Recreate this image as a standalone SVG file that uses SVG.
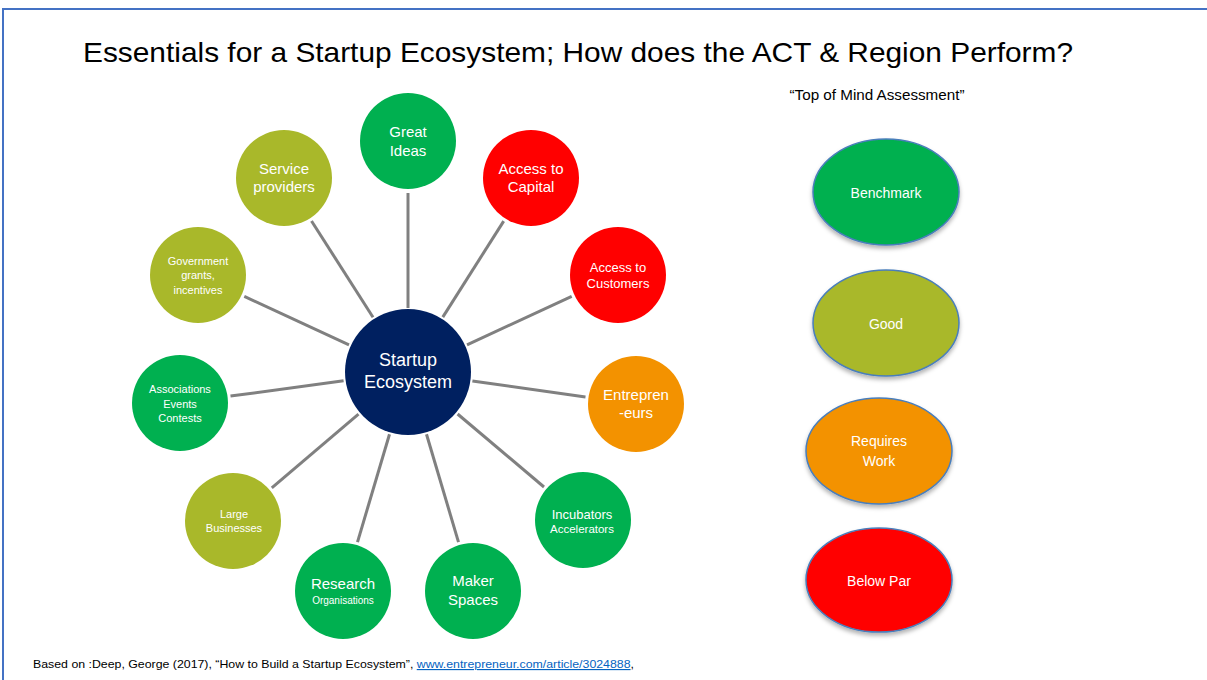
<svg xmlns="http://www.w3.org/2000/svg" width="1207" height="680" viewBox="0 0 1207 680">
<defs>
<style>
.t{font-family:"Liberation Sans",Arial,sans-serif;fill:#ffffff;text-anchor:middle}
.g{fill:#00B050}.o{fill:#A9B82A}.r{fill:#FF0000}.a{fill:#F39200}.n{fill:#002060}
.leg{stroke:#4A7EBB;stroke-width:1.5}
.c line{stroke:#808080;stroke-width:3}
</style>
<filter id="sh" x="-20%" y="-20%" width="140%" height="150%">
<feDropShadow dx="0" dy="3" stdDeviation="2" flood-color="#000" flood-opacity="0.3"/>
</filter>
</defs>
<rect width="1207" height="680" fill="#ffffff"/>
<path d="M3,680 V9 H1207" fill="none" stroke="#4472C4" stroke-width="2"/>
<text x="83" y="62" font-family="'Liberation Sans',Arial,sans-serif" font-size="28" fill="#000" textLength="990" lengthAdjust="spacingAndGlyphs">Essentials for a Startup Ecosystem; How does the ACT &amp; Region Perform?</text>
<text x="877" y="100" font-family="'Liberation Sans',Arial,sans-serif" font-size="14" fill="#000" text-anchor="middle" textLength="175" lengthAdjust="spacingAndGlyphs">“Top of Mind Assessment”</text>

<g class="c" id="connectors">
<line x1="408" y1="193" x2="408" y2="308"/>
<line x1="442.8" y1="317.1" x2="503.7" y2="221.1"/>
<line x1="467" y1="344.8" x2="571.7" y2="296.4"/>
<line x1="472.4" y1="381" x2="585.5" y2="396.9"/>
<line x1="457.6" y1="414" x2="544" y2="487"/>
<line x1="426.5" y1="434.3" x2="458.5" y2="542.1"/>
<line x1="389.5" y1="434.3" x2="357.5" y2="542.1"/>
<line x1="358.5" y1="414.1" x2="271.8" y2="487.9"/>
<line x1="343.6" y1="380.8" x2="230.5" y2="396.1"/>
<line x1="349" y1="344.8" x2="244.3" y2="296.4"/>
<line x1="373" y1="317.2" x2="311.5" y2="221"/>
</g>

<g id="center"><circle class="n" cx="408" cy="372" r="63"/>
<text class="t" x="408" y="366" font-size="18">Startup</text><text class="t" x="408" y="388" font-size="18">Ecosystem</text></g>

<g id="great-ideas"><circle class="g" cx="408" cy="141" r="48"/>
<text class="t" x="408" y="137" font-size="15">Great</text><text class="t" x="408" y="156" font-size="15">Ideas</text></g>

<g id="access-capital"><circle class="r" cx="531" cy="178" r="48"/>
<text class="t" x="531" y="174" font-size="15">Access to</text><text class="t" x="531" y="192" font-size="15">Capital</text></g>

<g id="access-customers"><circle class="r" cx="618" cy="275" r="48"/>
<text class="t" x="618" y="272" font-size="13">Access to</text><text class="t" x="618" y="288" font-size="13">Customers</text></g>

<g id="entrepreneurs"><circle class="a" cx="636" cy="404" r="48"/>
<text class="t" x="636" y="400" font-size="15">Entrepren</text><text class="t" x="636" y="418" font-size="15">-eurs</text></g>

<g id="incubators"><circle class="g" cx="583" cy="520" r="48"/>
<text class="t" x="582" y="519" font-size="13">Incubators</text><text class="t" x="582" y="533" font-size="11.5">Accelerators</text></g>

<g id="maker-spaces"><circle class="g" cx="473" cy="591" r="48"/>
<text class="t" x="473" y="586" font-size="15">Maker</text><text class="t" x="473" y="605" font-size="15">Spaces</text></g>

<g id="research"><circle class="g" cx="343" cy="591" r="48"/>
<text class="t" x="343" y="589" font-size="15">Research</text><text class="t" x="343" y="604" font-size="10">Organisations</text></g>

<g id="large-businesses"><circle class="o" cx="233" cy="521" r="48"/>
<text class="t" x="234" y="518" font-size="11">Large</text><text class="t" x="234" y="532" font-size="11">Businesses</text></g>

<g id="associations"><circle class="g" cx="180" cy="403" r="48"/>
<text class="t" x="180" y="393" font-size="11">Associations</text><text class="t" x="180" y="408" font-size="11">Events</text><text class="t" x="180" y="422" font-size="11">Contests</text></g>

<g id="government"><circle class="o" cx="198" cy="275" r="48"/>
<text class="t" x="198" y="265" font-size="11">Government</text><text class="t" x="198" y="279" font-size="11">grants,</text><text class="t" x="198" y="294" font-size="11">incentives</text></g>

<g id="service-providers"><circle class="o" cx="284" cy="178" r="48"/>
<text class="t" x="284" y="174" font-size="15">Service</text><text class="t" x="284" y="192" font-size="15">providers</text></g>

<g id="legend-benchmark"><ellipse class="g leg" cx="886" cy="192" rx="73" ry="53" filter="url(#sh)"/>
<text class="t" x="886" y="198" font-size="14">Benchmark</text></g>
<g id="legend-good"><ellipse class="o leg" cx="886" cy="323" rx="73" ry="53" filter="url(#sh)"/>
<text class="t" x="886" y="329" font-size="14">Good</text></g>
<g id="legend-requires-work"><ellipse class="a leg" cx="879" cy="451" rx="73" ry="53" filter="url(#sh)"/>
<text class="t" x="879" y="446" font-size="14">Requires</text><text class="t" x="879" y="466" font-size="14">Work</text></g>
<g id="legend-below-par"><ellipse class="r leg" cx="879" cy="580" rx="73" ry="52" filter="url(#sh)"/>
<text class="t" x="879" y="586" font-size="14">Below Par</text></g>

<text x="33" y="668" font-family="'Liberation Sans',Arial,sans-serif" font-size="11.5" fill="#000" textLength="601" lengthAdjust="spacingAndGlyphs">Based on :Deep, George (2017), “How to Build a Startup Ecosystem”, <tspan fill="#0563C1" text-decoration="underline">www.entrepreneur.com/article/3024888</tspan>,</text>
</svg>
